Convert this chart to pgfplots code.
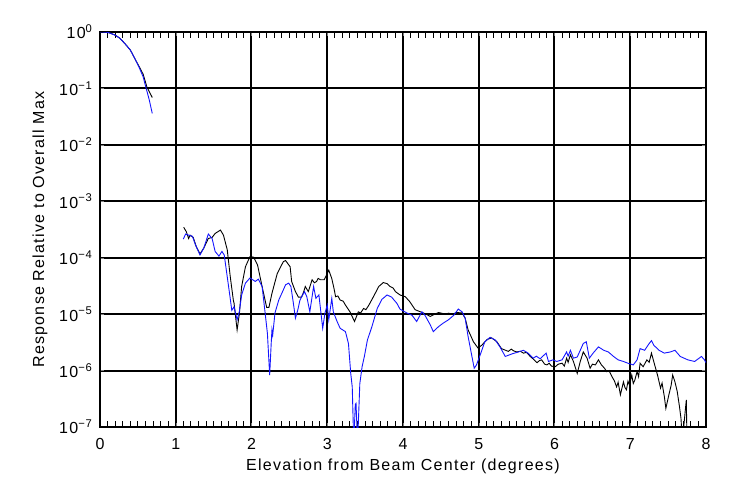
\documentclass[border=0pt]{standalone}
\usepackage{fontspec}
\setmainfont{Liberation Sans}[LetterSpace=8]
\usepackage{pgfplots}
\pgfplotsset{compat=1.18}
\definecolor{pblue}{RGB}{20,20,255}
\begin{document}
\fontsize{16}{19}\selectfont
\begin{tikzpicture}
\path[use as bounding box] (-100pt,-64pt) rectangle (636pt,427pt);
\begin{axis}[
  at={(0pt,0pt)}, anchor=south west,
  scale only axis, width=606pt, height=395pt,
  xmin=0, xmax=8, ymode=log, ymin=1e-7, ymax=1,
  xtick={0,1,2,3,4,5,6,7,8},
  xticklabels={0,1,2,3,4,5,6,7,8},
  minor x tick num=9,
  ytick={1e-7,1e-6,1e-5,1e-4,1e-3,1e-2,1e-1,1},
  yticklabels={10\textsuperscript{−7},10\textsuperscript{−6},10\textsuperscript{−5},10\textsuperscript{−4},10\textsuperscript{−3},10\textsuperscript{−2},10\textsuperscript{−1},10\textsuperscript{0}},
  yminorticks=false,
  xmajorgrids=true, ymajorgrids=true,
  major grid style={black, line width=2pt},
  axis line style={black, line width=1.6pt},
  minor tick style={black, line width=1pt},
  minor tick length=6pt,
  xticklabel style={yshift=-6pt},
  yticklabel style={xshift=-2pt},
  xlabel={Elevation from Beam Center (degrees)},
  ylabel={Response Relative to Overall Max},
  xlabel style={at={(axis description cs:0.5,-0.099)}, anchor=center},
  ylabel style={at={(axis description cs:-0.099,0.5)}, anchor=center},
  every axis plot/.append style={line width=0.9pt},
]
% black main lobe
\addplot[black] table {
0 1.0
0.05 0.998
0.1 0.985
0.13 0.96
0.2 0.88
0.26 0.78
0.33 0.62
0.40 0.48
0.44 0.38
0.48 0.30
0.52 0.24
0.57 0.178
0.62 0.105
0.66 0.083
0.69 0.069
};
% black sidelobes
\addplot[black] table {
1.105 3.47e-4
1.14 2.88e-4
1.17 2.19e-4
1.19 2.51e-4
1.23 2.29e-4
1.27 1.58e-4
1.32 1.17e-4
1.37 1.48e-4
1.43 2.19e-4
1.48 2.29e-4
1.52 2.69e-4
1.59 3.09e-4
1.63 2.51e-4
1.68 1.38e-4
1.72 4.57e-5
1.76 1.78e-5
1.77 1.55e-5
1.81 5.25e-6
1.84 1.02e-5
1.87 3.09e-5
1.92 6.92e-5
1.98 1.05e-4
2.03 1.02e-4
2.08 7.41e-5
2.14 3.09e-5
2.20 1.32e-5
2.23 1.32e-5
2.27 2.34e-5
2.34 5.25e-5
2.42 8.51e-5
2.45 8.91e-5
2.51 6.92e-5
2.53 3.80e-5
2.58 2.51e-5
2.62 2.0e-5
2.66 2.0e-5
2.69 2.51e-5
2.71 3.09e-5
2.75 2.51e-5
2.80 4.07e-5
2.83 3.6e-5
2.86 3.80e-5
2.88 4.3e-5
2.91 4.07e-5
2.96 4.07e-5
3.00 5.25e-5
3.02 6.03e-5
3.06 4.27e-5
3.09 2.82e-5
3.11 2.04e-5
3.14 2.1e-5
3.17 1.78e-5
3.21 1.7e-5
3.24 1.45e-5
3.30 1.10e-5
3.36 7.41e-6
3.41 1.10e-5
3.44 1.05e-5
3.48 1.26e-5
3.51 1.2e-5
3.55 1.45e-5
3.61 2.04e-5
3.68 3.09e-5
3.74 3.63e-5
3.79 3.47e-5
3.83 3.09e-5
3.87 2.9e-5
3.90 2.51e-5
3.96 2.19e-5
4.03 2.04e-5
4.09 1.66e-5
4.16 1.20e-5
4.23 1.10e-5
4.29 1.02e-5
4.36 9.12e-6
4.42 1.0e-5
4.47 1.07e-5
4.52 1.03e-5
4.56 1.0e-5
4.60 1.04e-5
4.65 1.0e-5
4.71 1.07e-5
4.78 1.05e-5
4.82 8.51e-6
4.86 5.25e-6
4.93 3.24e-6
4.99 2.51e-6
5.04 2.82e-6
5.11 3.55e-6
5.17 3.80e-6
5.24 3.24e-6
5.30 2.45e-6
5.35 2.3e-6
5.39 2.19e-6
5.43 2.4e-6
5.46 2.24e-6
5.50 2.14e-6
5.55 2.2e-6
5.59 2.04e-6
5.63 2.1e-6
5.68 1.78e-6
5.72 1.6e-6
5.77 1.38e-6
5.80 1.5e-6
5.83 1.55e-6
5.87 1.3e-6
5.90 1.26e-6
5.93 1.35e-6
5.96 1.20e-6
6.01 1.17e-6
6.05 1.3e-6
6.10 1.35e-6
6.13 1.2e-6
6.16 1.66e-6
6.18 1.4e-6
6.21 1.91e-6
6.25 1.45e-6
6.30 8.91e-7
6.34 1.45e-6
6.38 2.14e-6
6.43 1.66e-6
6.47 1.10e-6
6.50 1.3e-6
6.54 1.26e-6
6.58 1.55e-6
6.62 1.26e-6
6.66 1.1e-6
6.69 9.55e-7
6.72 1.0e-6
6.76 7.76e-7
6.79 6.6e-7
6.82 5.13e-7
6.84 6.2e-7
6.87 3.72e-7
6.91 6.31e-7
6.93 5.0e-7
6.95 4.57e-7
6.97 6.5e-7
6.99 5.50e-7
7.02 8.32e-7
7.04 5.9e-7
7.06 6.76e-7
7.09 9.55e-7
7.11 7.8e-7
7.13 1.35e-6
7.17 1.17e-6
7.22 1.55e-6
7.25 1.4e-6
7.28 2.04e-6
7.31 1.45e-6
7.36 8.32e-7
7.40 4.90e-7
7.42 6.0e-7
7.45 3.47e-7
7.47 2.14e-7
7.51 3.72e-7
7.54 5.50e-7
7.56 8.32e-7
7.59 6.31e-7
7.62 4.27e-7
7.65 2.29e-7
7.67 1.41e-7
7.69 5e-8
7.71 1.15e-7
7.74 3.02e-7
7.75 5e-8
};
% blue main lobe
\addplot[pblue] table {
0 1.0
0.05 0.998
0.1 0.985
0.13 0.96
0.2 0.88
0.26 0.78
0.33 0.62
0.40 0.48
0.44 0.38
0.48 0.30
0.52 0.23
0.57 0.16
0.60 0.112
0.65 0.063
0.69 0.036
};
% blue sidelobes
\addplot[pblue] table {
1.10 2.14e-4
1.13 2.63e-4
1.17 2.51e-4
1.22 2.40e-4
1.26 1.70e-4
1.32 1.12e-4
1.37 1.48e-4
1.43 2.63e-4
1.48 2.19e-4
1.52 1.29e-4
1.57 1.07e-4
1.61 1.29e-4
1.64 1.12e-4
1.68 4.57e-5
1.71 2.34e-5
1.74 1.17e-5
1.77 1.35e-5
1.81 7.94e-6
1.84 1.12e-5
1.87 2.19e-5
1.92 3.55e-5
1.98 4.37e-5
2.05 3.80e-5
2.09 4.17e-5
2.14 3.09e-5
2.18 1.05e-5
2.21 4.57e-6
2.24 8.32e-7
2.26 3.02e-6
2.27 5.25e-6
2.28 4.27e-6
2.31 1.05e-5
2.36 1.78e-5
2.42 2.69e-5
2.45 3.31e-5
2.49 3.55e-5
2.52 3.09e-5
2.55 1.66e-5
2.58 8.51e-6
2.61 1.17e-5
2.64 1.78e-5
2.70 2.51e-5
2.73 2.04e-5
2.77 1.10e-5
2.82 3.09e-5
2.85 1.91e-5
2.89 2.19e-5
2.94 5.62e-6
2.97 1.05e-5
3.00 1.45e-5
3.02 7.94e-6
3.06 1.91e-5
3.08 1.10e-5
3.13 7.41e-6
3.17 5.62e-6
3.24 4.90e-6
3.28 3.02e-6
3.31 8.91e-7
3.33 5.13e-7
3.35 5e-8
3.37 2.5e-7
3.38 2.63e-7
3.40 5e-8
3.43 5.89e-7
3.46 1.17e-6
3.49 1.78e-6
3.53 3.47e-6
3.59 6.03e-6
3.66 1.26e-5
3.72 1.82e-5
3.79 2.19e-5
3.85 2.0e-5
3.92 1.55e-5
3.96 1.23e-5
4.05 1.05e-5
4.12 9.55e-6
4.18 7.41e-6
4.25 1.10e-5
4.29 9.55e-6
4.36 6.46e-6
4.40 4.90e-6
4.47 6.03e-6
4.53 6.92e-6
4.60 7.94e-6
4.67 9.55e-6
4.73 1.23e-5
4.78 1.10e-5
4.82 8.51e-6
4.86 3.98e-6
4.91 1.78e-6
4.94 1.10e-6
4.97 1.26e-6
5.02 1.91e-6
5.08 3.24e-6
5.15 3.89e-6
5.22 3.47e-6
5.28 2.63e-6
5.35 1.78e-6
5.41 1.91e-6
5.45 2.0e-6
5.50 2.09e-6
5.55 2.2e-6
5.59 2.29e-6
5.65 2.04e-6
5.72 1.66e-6
5.76 1.8e-6
5.81 1.62e-6
5.89 2.04e-6
5.92 1.45e-6
5.98 1.55e-6
6.03 1.45e-6
6.10 1.55e-6
6.16 2.14e-6
6.18 1.8e-6
6.21 2.29e-6
6.25 1.66e-6
6.30 1.74e-6
6.34 2.29e-6
6.38 3.02e-6
6.42 3.24e-6
6.46 1.66e-6
6.51 2.04e-6
6.58 2.63e-6
6.65 2.29e-6
6.71 2.14e-6
6.78 1.78e-6
6.84 1.55e-6
6.91 1.45e-6
6.97 1.35e-6
7.04 1.26e-6
7.09 1.55e-6
7.13 2.45e-6
7.19 2.29e-6
7.25 3.02e-6
7.28 3.39e-6
7.31 2.82e-6
7.38 2.29e-6
7.45 2.04e-6
7.53 2.14e-6
7.59 2.29e-6
7.66 1.78e-6
7.76 1.55e-6
7.85 1.45e-6
7.94 1.78e-6
7.98 1.55e-6
8.00 1.38e-6
};
\end{axis}
\end{tikzpicture}
\end{document}
